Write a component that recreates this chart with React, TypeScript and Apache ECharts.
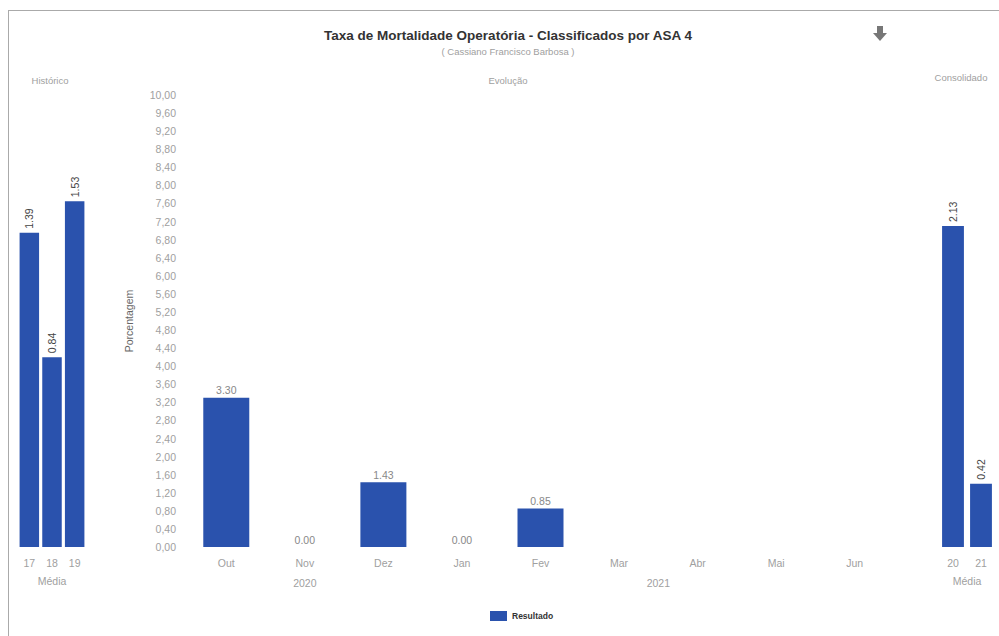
import React, { useEffect, useRef } from "react";
import * as echarts from "echarts";

const histCategories = ["17", "18", "19"];
const histValues = [1.39, 0.84, 1.53];

const monthCategories = ["Out", "Nov", "Dez", "Jan", "Fev", "Mar", "Abr", "Mai", "Jun"];
const monthValues: (number | null)[] = [3.3, 0.0, 1.43, 0.0, 0.85, null, null, null, null];

const yearLabels = ["2020", "2021"];
const yearStarts = [0, 3];
const yearCounts = [3, 6];

const consCategories = ["20", "21"];
const consValues = [2.13, 0.42];

const BLUE = "#2a52ad";
const FONT = "Liberation Sans, Arial, sans-serif";
const GRAY = "#a0a0a0";

export default function App() {
  const ref = useRef<HTMLDivElement>(null);
  useEffect(() => {
    if (!ref.current) return;
    const chart = echarts.init(ref.current, undefined, { renderer: "svg" });
    const sideLabel = {
      show: true,
      position: "top",
      rotate: 90,
      align: "left",
      verticalAlign: "middle",
      distance: 4,
      fontSize: 10.5,
      color: "#444",
      fontFamily: FONT,
      formatter: (p: any) => Number(p.value).toFixed(2),
    };
    const panelTitle = { fontSize: 9.5, fontWeight: "normal", color: GRAY, fontFamily: FONT };
    chart.setOption({
      animation: false,
      textStyle: { fontFamily: FONT },
      title: [
        {
          text: "Taxa de Mortalidade Operatória - Classificados por ASA 4",
          subtext: "( Cassiano Francisco Barbosa )",
          left: 503,
          top: 23,
          textAlign: "center",
          itemGap: 4,
          textStyle: { fontSize: 13.5, fontWeight: "bold", color: "#333", fontFamily: FONT },
          subtextStyle: { fontSize: 9.5, color: GRAY, fontFamily: FONT },
        },
        { text: "Histórico", left: 45, top: 70, textAlign: "center", textStyle: panelTitle },
        { text: "Evolução", left: 503, top: 70, textAlign: "center", textStyle: panelTitle },
        { text: "Consolidado", left: 956, top: 67, textAlign: "center", textStyle: panelTitle },
      ],
      legend: {
        data: ["Resultado"],
        left: 485,
        top: 606,
        itemWidth: 17,
        itemHeight: 10,
        itemGap: 6,
        icon: "rect",
        textStyle: { fontSize: 8.5, fontWeight: "bold", color: "#333", fontFamily: FONT },
      },
      grid: [
        { left: 18, top: 95, width: 68, height: 452 },
        { left: 187, top: 95, width: 707, height: 452 },
        { left: 939, top: 95, width: 56, height: 452 },
      ],
      xAxis: [
        {
          type: "category",
          gridIndex: 0,
          data: histCategories,
          axisLine: { show: false },
          axisTick: { show: false },
          axisLabel: { fontSize: 10.5, color: GRAY, margin: 10 },
          name: "Média",
          nameLocation: "middle",
          nameGap: 28,
          nameTextStyle: { fontSize: 10.5, color: GRAY },
        },
        {
          type: "category",
          gridIndex: 1,
          data: monthCategories,
          axisLine: { show: false },
          axisTick: { show: false },
          axisLabel: { fontSize: 10.5, color: GRAY, margin: 10 },
        },
        {
          type: "value",
          gridIndex: 1,
          min: 0,
          max: monthCategories.length,
          interval: 0.5,
          position: "bottom",
          axisLine: { show: false },
          axisTick: { show: false },
          splitLine: { show: false },
          axisLabel: {
            fontSize: 10.5,
            color: GRAY,
            margin: 30,
            showMinLabel: true,
            showMaxLabel: true,
            formatter: (v: number) => {
              for (let i = 0; i < yearLabels.length; i++) {
                if (Math.abs(yearStarts[i] + yearCounts[i] / 2 - v) < 1e-6) return yearLabels[i];
              }
              return "";
            },
          },
        },
        {
          type: "category",
          gridIndex: 2,
          data: consCategories,
          axisLine: { show: false },
          axisTick: { show: false },
          axisLabel: { fontSize: 10.5, color: GRAY, margin: 10 },
          name: "Média",
          nameLocation: "middle",
          nameGap: 28,
          nameTextStyle: { fontSize: 10.5, color: GRAY },
        },
      ],
      yAxis: [
        { type: "value", gridIndex: 0, min: 0, max: 2, show: false },
        {
          type: "value",
          gridIndex: 1,
          min: 0,
          max: 10,
          interval: 0.4,
          axisLine: { show: false },
          axisTick: { show: false },
          splitLine: { show: false },
          axisLabel: {
            fontSize: 10.5,
            color: GRAY,
            margin: 11,
            formatter: (v: number) => v.toFixed(2).replace(".", ","),
          },
          name: "Porcentagem",
          nameLocation: "middle",
          nameGap: 53,
          nameTextStyle: { fontSize: 10.5, color: "#666" },
        },
        { type: "value", gridIndex: 2, min: 0, max: 3, show: false },
      ],
      series: [
        {
          name: "Resultado",
          type: "bar",
          xAxisIndex: 0,
          yAxisIndex: 0,
          data: histValues,
          barCategoryGap: "14%",
          itemStyle: { color: BLUE },
          label: sideLabel,
        },
        {
          name: "Resultado",
          type: "bar",
          xAxisIndex: 1,
          yAxisIndex: 1,
          data: monthValues,
          barWidth: 46,
          itemStyle: { color: BLUE },
          label: {
            show: true,
            position: "top",
            distance: 2,
            fontSize: 10.5,
            color: "#888",
            formatter: (p: any) => Number(p.value).toFixed(2),
          },
        },
        {
          name: "Resultado",
          type: "bar",
          xAxisIndex: 3,
          yAxisIndex: 2,
          data: consValues,
          barCategoryGap: "22%",
          itemStyle: { color: BLUE },
          label: sideLabel,
        },
      ],
      graphic: [
        { type: "line", shape: { x1: 8, y1: 10.5, x2: 999, y2: 10.5 }, style: { stroke: "#aaa", lineWidth: 1 } },
        { type: "line", shape: { x1: 8.5, y1: 10, x2: 8.5, y2: 636 }, style: { stroke: "#aaa", lineWidth: 1 } },
        {
          type: "polygon",
          shape: {
            points: [
              [877, 26],
              [883, 26],
              [883, 33],
              [887, 33],
              [880, 41],
              [873, 33],
              [877, 33],
            ],
          },
          style: { fill: "#777" },
        },
      ],
    });
    return () => chart.dispose();
  }, []);
  return <div ref={ref} style={{ position: "absolute", left: 0, top: 0, width: 999, height: 636 }} />;
}
